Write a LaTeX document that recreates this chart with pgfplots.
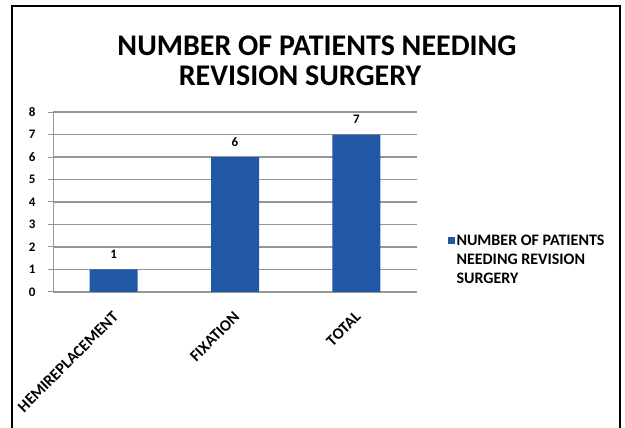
\documentclass[border=0pt]{standalone}
\usepackage{pgfplots}
\pgfplotsset{compat=1.18}
\usepackage{fontspec}
\setmainfont{Carlito}
\definecolor{barblue}{RGB}{32,88,165}
\definecolor{gridgray}{RGB}{150,150,150}
\begin{document}
\begin{tikzpicture}[x=1pt,y=1pt]
\useasboundingbox (0,0) rectangle (625,428);
\draw[line width=2pt] (12,-5) -- (12,422) -- (620,422) -- (620,-5);
\node[anchor=base,font=\fontsize{30}{30}\selectfont\bfseries,inner sep=0pt] at (317,372) {NUMBER OF PATIENTS NEEDING};
\node[anchor=base,font=\fontsize{30}{30}\selectfont\bfseries,inner sep=0pt] at (300,342) {REVISION SURGERY};
\begin{axis}[
  at={(113.67pt,136pt)}, anchor=origin,
  scale only axis, width=364pt, height=180pt,
  xmin=-0.5, xmax=2.5, ymin=0, ymax=8,
  /pgf/number format/assume math mode=true,
  ytick={0,1,2,3,4,5,6,7,8},
  xtick={0,1,2},
  xticklabels={HEMIREPLACEMENT,FIXATION,TOTAL},
  extra x ticks={-0.5,0.5,1.5,2.5},
  extra x tick labels={},
  extra x tick style={major tick length=4pt, tick style={gridgray, line width=1pt}},
  major x tick style={draw=none},
  axis x line*=bottom, axis y line*=left,
  axis line style={gridgray, line width=1pt},
  tick align=outside,
  major tick length=5pt,
  ytick style={gridgray, line width=1pt},
  ymajorgrids,
  grid style={gridgray, line width=1.6pt},
  y tick label style={font=\fontsize{13}{13}\selectfont\bfseries, xshift=-9pt},
  xticklabel style={font=\fontsize{16}{16}\selectfont\bfseries, xshift=-2pt, yshift=-12pt, rotate=45, anchor=north east, inner sep=1pt},
  ybar, bar width=48pt,
  nodes near coords,
  every node near coord/.append style={font=\fontsize{13}{13}\selectfont\bfseries, yshift=7pt},
  legend style={at={(1.075,0.34)}, anchor=north west, draw=none, fill=none,
    font=\fontsize{16}{19}\selectfont\bfseries, nodes={align=left}},
  legend image code/.code={\fill[barblue] (0pt,15.5pt) rectangle (7pt,22.5pt);},
]
\addplot[fill=barblue, draw=none] coordinates {(0,1) (1,6) (2,7)};
\addlegendentry{NUMBER OF PATIENTS\\NEEDING REVISION\\SURGERY}
\end{axis}
\end{tikzpicture}
\end{document}
